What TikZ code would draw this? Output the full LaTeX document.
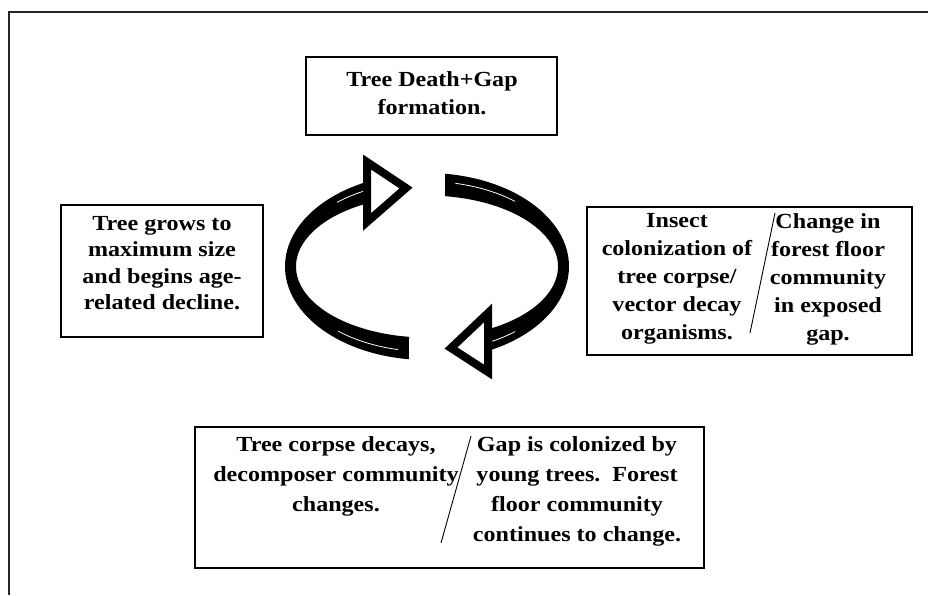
\documentclass[tikz,border=0pt]{standalone}
\usepackage{fontspec}
\setmainfont{Liberation Serif}[FakeStretch=1.12]
\usepackage{tikz}

\begin{document}
\begin{tikzpicture}[x=1pt, y=1pt,
    box/.style={draw, line width=1.2pt, inner sep=0pt},
    txt/.style={align=center, inner sep=0pt, font=\fontsize{21.5}{28}\selectfont\bfseries},
    band/.style={fill=black},
    head/.style={draw, fill=white, line width=8pt, miter limit=10},
    gleam/.style={white, line width=0.8pt}]
    \useasboundingbox (0,0) rectangle (928,595);

    % Page frame
    \draw[line width=2pt, black!85] (9,0) -- (9,583) -- (928,583);

    % Boxes
    \node[box, minimum width=251pt, minimum height=78pt] (death) at (431.5,499) {};
    \node[box, minimum width=202pt, minimum height=132pt] (grow) at (162,324) {};
    \node[box, minimum width=325pt, minimum height=148pt] (insect) at (749.5,314) {};
    \node[box, minimum width=509pt, minimum height=141pt] (decay) at (449.5,97.5) {};

    % Labels
    \node[txt] (deathtxt) at (432,501.5) {Tree Death+Gap\\formation.};
    \node[txt, font=\fontsize{21.5}{26.5}\selectfont\bfseries] (growtxt) at (162,332)
        {Tree grows to\\maximum size\\and begins age-\\related decline.};
    \node[txt] (insecttxt) at (677,316)
        {Insect\\colonization of\\tree corpse/\\vector decay\\organisms.};
    \node[txt] (floortxt) at (828,316)
        {Change in\\forest floor\\community\\in exposed\\gap.};
    \node[txt, font=\fontsize{21.5}{30}\selectfont\bfseries] (decaytxt) at (336,118.5)
        {Tree corpse decays,\\decomposer community\\changes.};
    \node[txt, font=\fontsize{21.5}{30}\selectfont\bfseries] (gaptxt) at (577,103.5)
        {Gap is colonized by\\young trees.\ \ Forest\\floor community\\continues to change.};

    % Split marks
    \coordinate (ia) at (775,382);
    \coordinate (ib) at (750,262);
    \draw[line width=0.9pt] (ia) -- (ib);
    \coordinate (da) at (471,159);
    \coordinate (db) at (441,52);
    \draw[line width=0.9pt] (da) -- (db);

    % Cycle arrows
    \coordinate (ctr) at (427,328.5);
    \fill[band] ([shift={(262.7:142 and 93.5)}]ctr)
        arc[start angle=262.7, end angle=115.5, x radius=142, y radius=93.5]
        -- ([shift={(118.5:131 and 71)}]ctr)
        arc[start angle=118.5, end angle=262.1, x radius=131, y radius=71] -- cycle;
    \fill[band] ([shift={(82.7:142 and 93.5)}]ctr)
        arc[start angle=82.7, end angle=-64.6, x radius=142, y radius=93.5]
        -- ([shift={(-62.2:131 and 71)}]ctr)
        arc[start angle=-62.2, end angle=82.1, x radius=131, y radius=71] -- cycle;

    % Highlights
    \draw[gleam] ([shift={(229.5:137 and 85)}]ctr) arc[start angle=229.5, end angle=257.8, x radius=137, y radius=85];
    \draw[gleam] ([shift={(131:137 and 85)}]ctr) arc[start angle=131, end angle=113.6, x radius=137, y radius=85];
    \draw[gleam] ([shift={(78:137 and 85)}]ctr) arc[start angle=78, end angle=50, x radius=137, y radius=85];
    \draw[gleam] ([shift={(-66:137 and 85)}]ctr) arc[start angle=-66, end angle=-50, x radius=137, y radius=85];

    % Heads
    \draw[head] (367,433) -- (367,373) -- (406,407) -- cycle;
    \draw[head] (488,282) -- (488,223) -- (451,247) -- cycle;
\end{tikzpicture}
\end{document}
